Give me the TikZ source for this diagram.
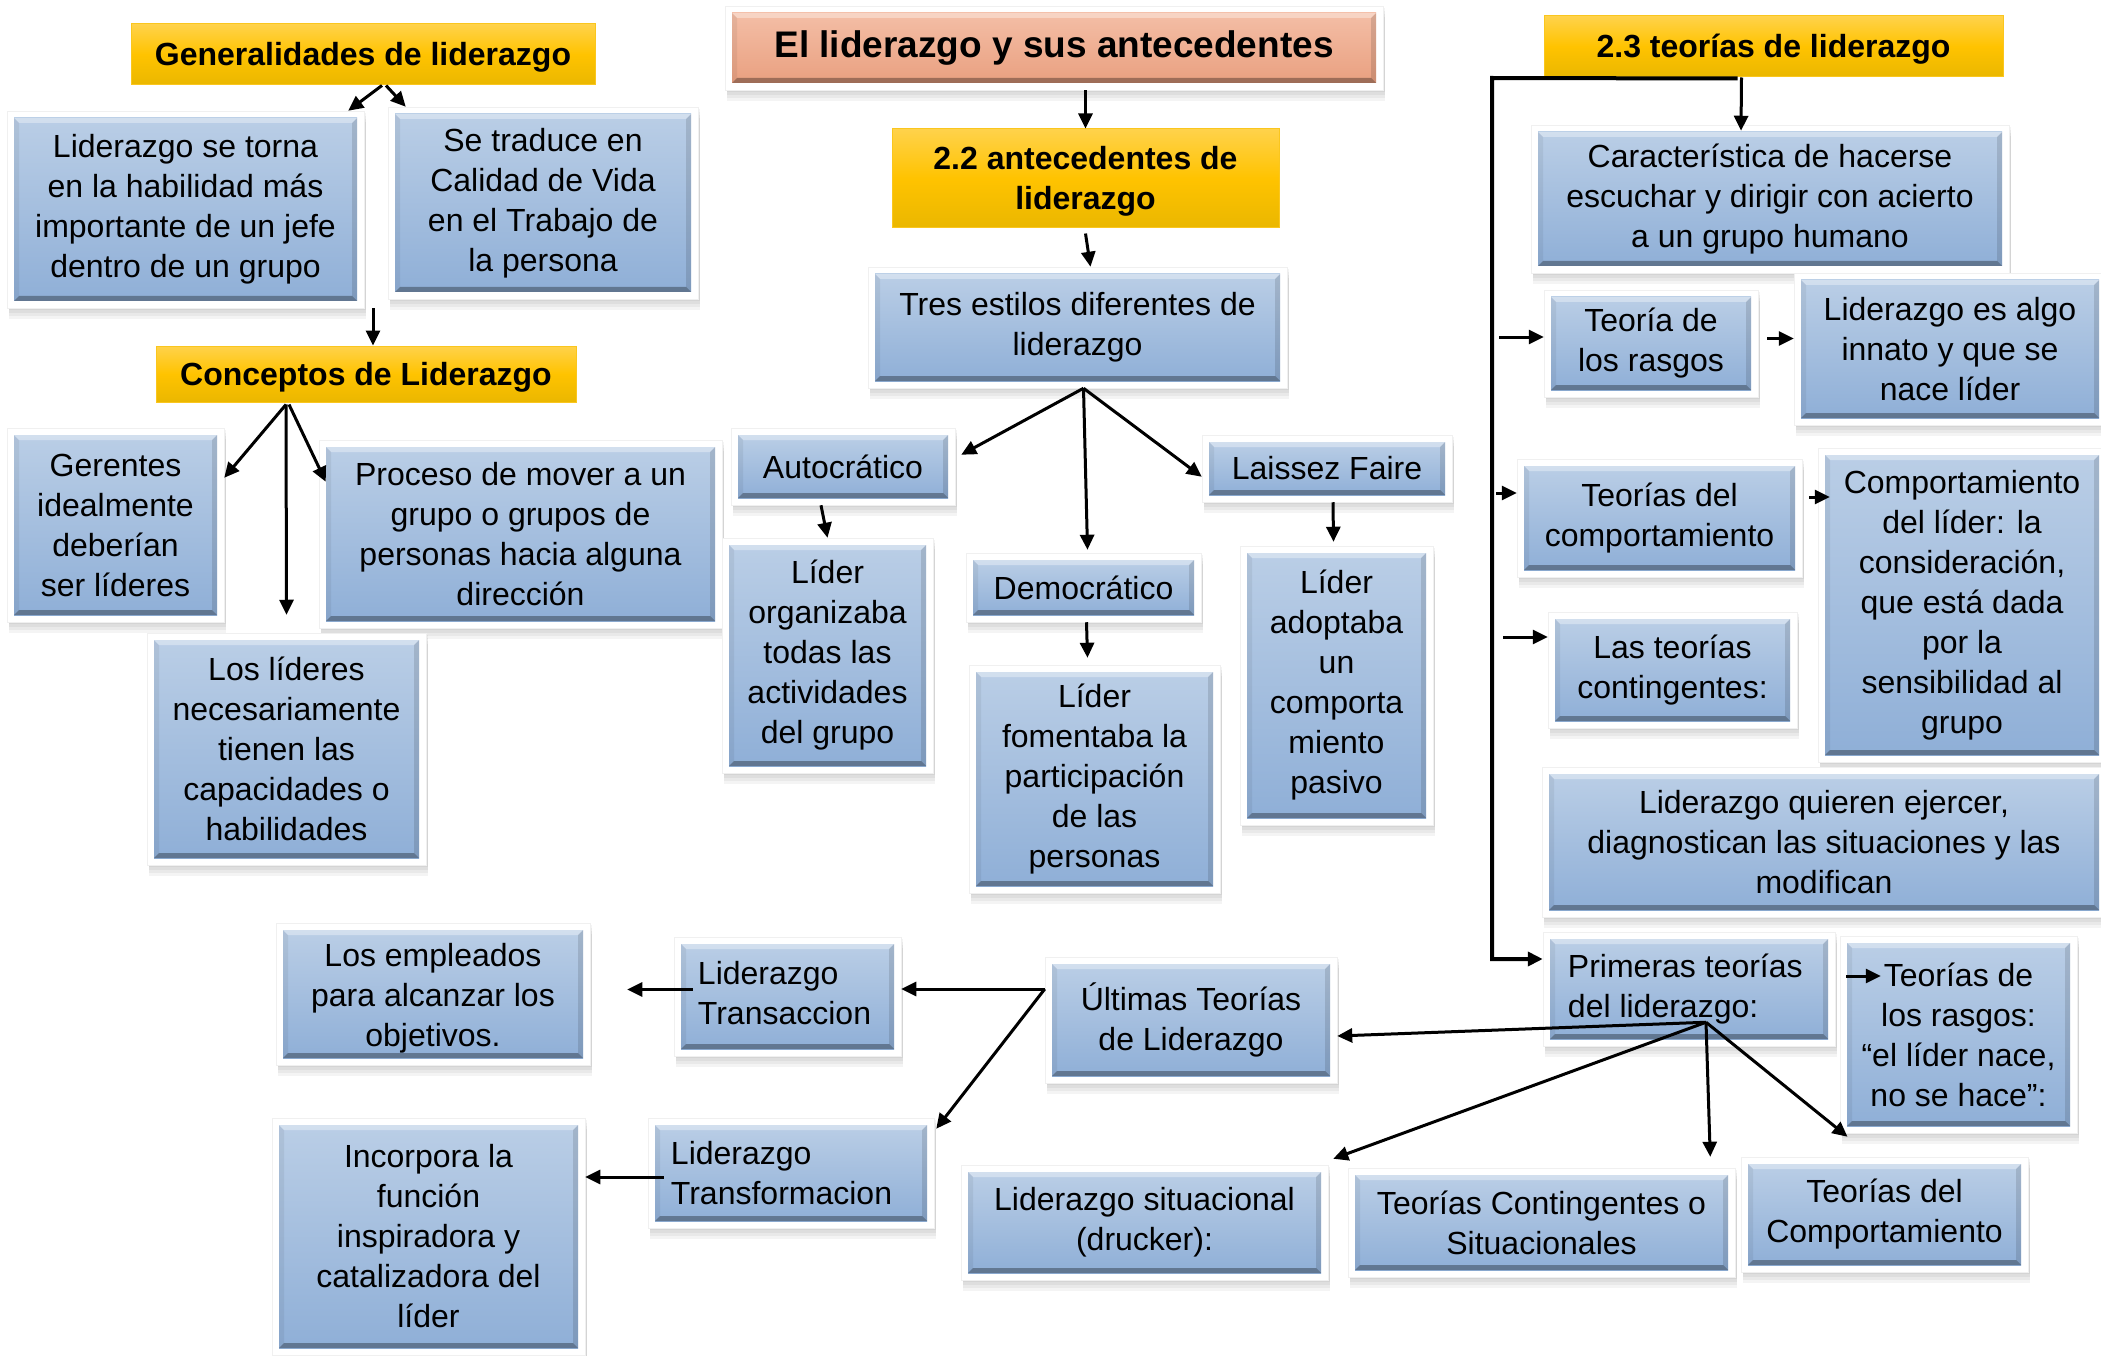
\documentclass[tikz,border=0pt]{standalone}
\usepackage{fontspec}
\setmainfont{Liberation Sans}
\usetikzlibrary{arrows.meta,fit}
\definecolor{btop}{RGB}{186,206,230}
\definecolor{bbot}{RGB}{143,175,215}
\definecolor{ytop}{RGB}{255,210,75}
\definecolor{ymid}{RGB}{255,195,0}
\definecolor{ybot}{RGB}{234,183,0}
\definecolor{ybord}{RGB}{250,198,30}
\definecolor{stop}{RGB}{244,190,166}
\definecolor{sbot}{RGB}{233,160,128}
\tikzset{
  txt/.style={font=\fontsize{32}{40}\selectfont, align=center, inner sep=0pt, text=black},
  txtb/.style={font=\fontsize{32}{40}\selectfont\bfseries, align=center, inner sep=0pt, text=black},
  arr/.style={line width=3pt, -{Triangle[length=15pt,width=14pt]}},
}
% frame with bevelled, shaded inner panel
\newcommand\frm[7]{%
  \foreach \sh in {2,5,8,11}{\fill[black,opacity=0.045] (#2+2,#3+\sh) rectangle (#4+2,#5+\sh);}
  \node[fit={(#2,#3)(#4,#5)},inner sep=0pt,fill=white,draw=black!6,line width=0.5pt] (#1) {};
  \shade[top color=#6,bottom color=#7] (#2+7,#3+7) rectangle (#4-7,#5-7);
  \fill[white,opacity=0.35] (#2+7,#3+7) -- (#4-7,#3+7) -- (#4-12,#3+12) -- (#2+12,#3+12) -- cycle;
  \fill[black,opacity=0.32] (#2+7,#5-7) -- (#4-7,#5-7) -- (#4-12,#5-12) -- (#2+12,#5-12) -- cycle;
  \fill[black,opacity=0.06] (#2+7,#3+7) -- (#2+12,#3+12) -- (#2+12,#5-12) -- (#2+7,#5-7) -- cycle;
  \fill[black,opacity=0.12] (#4-7,#3+7) -- (#4-12,#3+12) -- (#4-12,#5-12) -- (#4-7,#5-7) -- cycle;
}
\newcommand\bbox[6]{\frm{#1}{#2}{#3}{#4}{#5}{btop}{bbot}\node[txt] at (#1.center) {#6};}
\newcommand\ybox[6]{\node[fit={(#2,#3)(#4,#5)},inner sep=0pt,draw=ybord,line width=1pt,top color=ytop,bottom color=ybot,middle color=ymid] (#1) {};\node[txtb] at ([yshift=-3pt]#1.center) {#6};}
\begin{document}
\begin{tikzpicture}[x=1pt,y=-1pt]
\useasboundingbox[fill=white] (0,0) rectangle (2101,1356);

% ---------- left column ----------
\ybox{gen}{131}{24}{595}{85}{Generalidades de liderazgo}
\bbox{b1}{7}{111}{364}{308}{Liderazgo se torna\\en la habilidad más\\importante de un jefe\\dentro de un grupo}
\bbox{b2}{388}{107}{698}{299}{Se traduce en\\Calidad de Vida\\en el Trabajo de\\la persona}
\ybox{conc}{156}{346}{576}{402}{Conceptos de Liderazgo}
\bbox{ger}{7}{428}{224}{622}{Gerentes\\idealmente\\deberían\\ser líderes}
\bbox{pro}{319}{440}{722}{628}{Proceso de mover a un\\grupo o grupos de\\personas hacia alguna\\dirección}
\bbox{lid}{147}{633}{426}{865}{Los líderes\\necesariamente\\tienen las\\capacidades o\\habilidades}

% ---------- centre column ----------
\frm{title}{725}{6}{1383}{90}{stop}{sbot}
\node[txtb,font=\fontsize{37}{44}\selectfont\bfseries] at (title.center) {El liderazgo y sus antecedentes};
\ybox{a22}{892}{129}{1279}{228}{2.2 antecedentes de\\liderazgo}
\bbox{tres}{868}{267}{1287}{388}{Tres estilos diferentes de\\liderazgo}
\bbox{auto}{731}{428}{955}{505}{Autocrático}
\bbox{org}{722}{538}{933}{773}{Líder\\organizaba\\todas las\\actividades\\del grupo}
\bbox{demo}{966}{553}{1201}{622}{Democrático}
\bbox{fom}{969}{665}{1220}{893}{Líder\\fomentaba la\\participación\\de las\\personas}
\bbox{lai}{1202}{435}{1452}{502}{Laissez Faire}
\bbox{adop}{1240}{546}{1433}{825}{Líder\\adoptaba\\un\\comporta\\miento\\pasivo}

% ---------- right column ----------
\ybox{t23}{1544}{16}{2003}{77}{2.3 teorías de liderazgo}
\bbox{car}{1531}{125}{2009}{273}{Característica de hacerse\\escuchar y dirigir con acierto\\a un grupo humano}
\bbox{ras1}{1544}{290}{1758}{397}{Teoría de\\los rasgos}
\bbox{inn}{1794}{273}{2106}{425}{Liderazgo es algo\\innato y que se\\nace líder}
\bbox{comp}{1517}{459}{1802}{577}{Teorías del\\comportamiento}
\bbox{cdl}{1818}{448}{2106}{762}{Comportamiento\\del líder: la\\consideración,\\que está dada\\por la\\sensibilidad al\\grupo}
\bbox{cont}{1548}{612}{1797}{728}{Las teorías\\contingentes:}
\bbox{quie}{1542}{767}{2106}{917}{Liderazgo quieren ejercer,\\diagnostican las situaciones y las\\modifican}
\frm{pri}{1543}{932}{1835}{1046}{btop}{bbot}
\node[txt,align=left,anchor=west] at ([xshift=25pt]pri.west) {Primeras teorías\\del liderazgo:};
\bbox{ras2}{1840}{936}{2077}{1133}{Teorías de\\los rasgos:\\“el líder nace,\\no se hace”:}

% ---------- bottom row ----------
\bbox{ult}{1045}{957}{1337}{1083}{Últimas Teorías\\de Liderazgo}
\frm{trans}{674}{937}{901}{1056}{btop}{bbot}
\node[txt,align=left,anchor=west] at ([xshift=24pt,yshift=3pt]trans.west) {Liderazgo\\Transaccion};
\frm{emp}{276}{923}{590}{1065}{btop}{bbot}
\node[txt] at ([yshift=-4pt]emp.center) {Los empleados\\para alcanzar los\\objetivos.};
\frm{transf}{648}{1118}{934}{1228}{btop}{bbot}
\node[txt,align=left,anchor=west] at ([xshift=23pt]transf.west) {Liderazgo\\Transformacion};
\bbox{inc}{272}{1118}{585}{1355}{Incorpora la\\función\\inspiradora y\\catalizadora del\\líder}
\bbox{sit}{961}{1165}{1328}{1280}{Liderazgo situacional\\(drucker):}
\bbox{tco}{1348}{1168}{1735}{1277}{Teorías Contingentes o\\Situacionales}
\bbox{tcomp}{1741}{1157}{2028}{1272}{Teorías del\\Comportamiento}

% ---------- connectors ----------
\draw[arr] ([xshift=19pt]gen.south) -- ([xshift=-16pt]b1.north east);
\draw[arr] ([xshift=23pt]gen.south) -- ([xshift=18pt]b2.north west);
\coordinate (c1) at (conc.north |- b1.south);
\draw[arr] ([xshift=7pt]c1) -- ([xshift=7pt]conc.north);
\coordinate (cb) at ([xshift=-80pt,yshift=-2pt]conc.south);
\draw[arr] (cb) -- ([yshift=-50pt]ger.north east);
\draw[arr] (cb) -- ([yshift=18pt]lid.north);
\draw[arr] ([xshift=3pt]cb) -- ([xshift=7pt,yshift=-42pt]pro.north west);

\draw[arr] (title.south -| a22.north) -- (a22.north);
\draw[arr] ([yshift=-5pt]a22.south) -- ([xshift=13pt]tres.north);
\coordinate (tb) at ([xshift=6pt]tres.south);
\draw[arr] (tb) -- ([xshift=6pt,yshift=-27pt]auto.north east);
\draw[arr] (tb) -- ([xshift=4pt,yshift=3pt]demo.north);
\draw[arr] (tb) -- ([yshift=-42pt]lai.north west);
\draw[arr] ([xshift=-22pt]auto.south) -- (org.north);
\draw[arr] ([xshift=3pt]demo.south) -- ([xshift=-7pt,yshift=7pt]fom.north);
\draw[arr] ([xshift=6pt]lai.south) -- ([xshift=-3pt,yshift=4pt]adop.north);

\draw[arr] ([xshift=-32pt]t23.south) -- ([xshift=-29pt,yshift=-6pt]car.north);
\coordinate (bk) at (1492,78);
\draw[arr,line width=4pt,line join=miter] ([xshift=-36pt,yshift=-1pt]t23.south) -- (bk) |- ([yshift=30pt]pri.west);
\coordinate (s1) at (1499,337);
\draw[arr] (s1) -- (s1 -| ras1.west);
\coordinate (s2) at (1496,493);
\draw[arr] (s2) -- (s2 -| comp.west);
\coordinate (s3) at (1503,637);
\draw[arr] (s3) -- (s3 -| cont.west);
\coordinate (r1) at ([xshift=9pt,yshift=5pt]ras1.east);
\draw[arr] (r1) -- (r1 -| inn.west);
\coordinate (r2) at ([xshift=7pt,yshift=21pt]comp.east);
\draw[arr,shorten >=-12pt] (r2) -- (r2 -| cdl.west);
\draw[arr] ([xshift=11pt,yshift=13pt]pri.east) -- ([xshift=41pt,yshift=58.5pt]ras2.west);

\coordinate (pb) at ([xshift=17pt,yshift=24pt]pri.south);
\draw[arr] (pb) -- ([yshift=-16pt]ult.east);
\draw[arr] (pb) -- ([xshift=5pt,yshift=6pt]sit.north east);
\draw[arr] (pb) -- ([xshift=-25pt,yshift=11pt]tco.north east);
\draw[arr] (pb) -- ([xshift=-37pt,yshift=20pt]tcomp.north);

\coordinate (u1) at ([yshift=31pt]ult.west);
\draw[arr] (u1) -- (u1 -| trans.east);
\draw[arr] (u1) -- ([xshift=2pt,yshift=-11pt]transf.north east);
\coordinate (t1) at ([xshift=19pt,yshift=7pt]trans.west);
\draw[arr,shorten >=37pt] (t1) -- (t1 -| emp.east);
\coordinate (t2) at ([xshift=16pt,yshift=-4pt]transf.west);
\draw[arr] (t2) -- (t2 -| inc.east);
\end{tikzpicture}
\end{document}
